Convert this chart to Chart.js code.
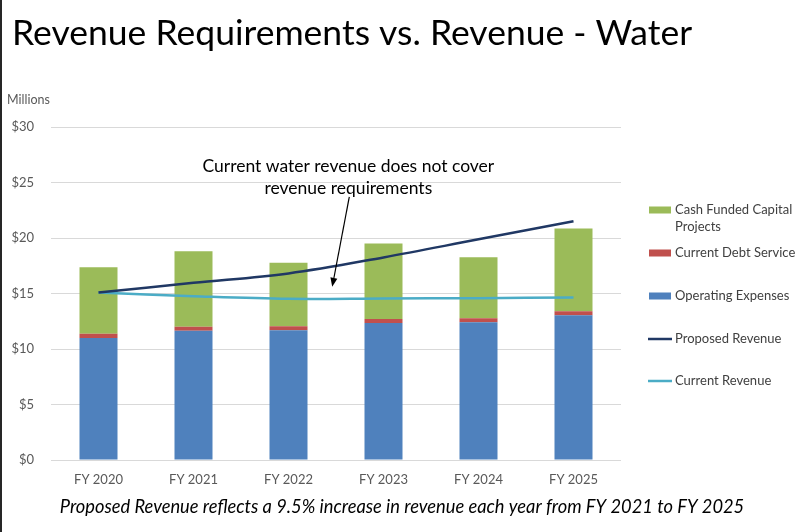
<!DOCTYPE html>
<html>
<head>
<meta charset="utf-8">
<script src="https://cdn.jsdelivr.net/npm/chart.js@4"></script>
<style>
  html, body { margin: 0; padding: 0; background: #fff; }
  #wrap { width: 800px; height: 532px; position: relative; }
</style>
</head>
<body>
<div id="wrap"><canvas id="revchart" width="800" height="532"></canvas></div>
<script>
// values in $ millions
var years = ['FY 2020', 'FY 2021', 'FY 2022', 'FY 2023', 'FY 2024', 'FY 2025'];
var operatingExpenses = [11.0, 11.65, 11.7, 12.35, 12.4, 13.05];
var currentDebt = [0.37, 0.36, 0.36, 0.36, 0.36, 0.36];
var cashCapital = [6.0, 6.8, 5.7, 6.8, 5.5, 7.45];
var proposedRevenue = [15.09, 15.96, 16.81, 18.25, 19.88, 21.5];
var currentRevenue = [15.09, 14.76, 14.52, 14.55, 14.58, 14.64];
var yTicks = [0, 5, 10, 15, 20, 25, 30];

var FONT = 'Lato, "Open Sans", sans-serif';

// legend is drawn by hand so the long label can wrap onto two lines
var legendOrder = [2, 1, 0, 3, 4];
var legendY = [210, 253, 296, 339, 381];

var slideText = {
  id: 'slideText',
  afterDraw: function(chart) {
    var ctx = chart.ctx;
    var xs = chart.scales.x, ys = chart.scales.y;
    ctx.save();

    // dark strip down the left edge of the slide
    ctx.fillStyle = '#262626';
    ctx.fillRect(0, 0, 2, 532);

    // title
    ctx.fillStyle = '#000';
    ctx.textAlign = 'left';
    ctx.textBaseline = 'alphabetic';
    ctx.font = '35.5px ' + FONT;
    ctx.fillText('Revenue Requirements vs. Revenue - Water', 12, 45);

    // units label
    ctx.fillStyle = '#595959';
    ctx.font = '12.5px ' + FONT;
    ctx.textBaseline = 'middle';
    ctx.fillText('Millions', 7, 100);

    // callout
    var cx = xs.getPixelForValue(2.63);
    ctx.fillStyle = '#000';
    ctx.textAlign = 'center';
    ctx.font = '17.5px ' + FONT;
    ctx.fillText('Current water revenue does not cover', cx, 166);
    ctx.fillText('revenue requirements', cx, 188);

    var x0 = xs.getPixelForValue(2.64), y0 = ys.getPixelForValue(23.7);
    var x1 = xs.getPixelForValue(2.46), y1 = ys.getPixelForValue(15.6);
    var ang = Math.atan2(y1 - y0, x1 - x0);
    var hl = 9, hw = 3.5;
    var bx = x1 - hl * Math.cos(ang), by = y1 - hl * Math.sin(ang);
    ctx.strokeStyle = '#000';
    ctx.lineWidth = 1.2;
    ctx.beginPath();
    ctx.moveTo(x0, y0);
    ctx.lineTo(bx, by);
    ctx.stroke();
    ctx.beginPath();
    ctx.moveTo(x1, y1);
    ctx.lineTo(bx + hw * Math.sin(ang), by - hw * Math.cos(ang));
    ctx.lineTo(bx - hw * Math.sin(ang), by + hw * Math.cos(ang));
    ctx.closePath();
    ctx.fill();

    // legend
    ctx.textAlign = 'left';
    ctx.font = '13px ' + FONT;
    legendOrder.forEach(function(di, k) {
      var ds = chart.data.datasets[di];
      var y = legendY[k];
      if (ds.type === 'line') {
        ctx.strokeStyle = ds.borderColor;
        ctx.lineWidth = 2.5;
        ctx.beginPath();
        ctx.moveTo(648, y);
        ctx.lineTo(672, y);
        ctx.stroke();
      } else {
        ctx.fillStyle = ds.backgroundColor;
        ctx.fillRect(649, y - 3.5, 22, 7);
      }
      ctx.fillStyle = '#404040';
      var words = ds.label.split(' '), line = '', lines = [];
      words.forEach(function(w) {
        var t = line ? line + ' ' + w : w;
        if (ctx.measureText(t).width > 135 && line) { lines.push(line); line = w; }
        else line = t;
      });
      lines.push(line);
      lines.forEach(function(l, i) { ctx.fillText(l, 675, y + i * 17); });
    });

    // footnote
    ctx.fillStyle = '#000';
    ctx.textAlign = 'center';
    ctx.font = 'italic 18.3px ' + FONT;
    ctx.fillText('Proposed Revenue reflects a 9.5% increase in revenue each year from FY 2021 to FY 2025', 402, 507);

    ctx.restore();
  }
};

var chart1 = document.getElementById('revchart');
var myChart1 = new Chart(chart1, {
  type: 'bar',
  data: {
    labels: years,
    datasets: [{
      label: 'Operating Expenses',
      data: operatingExpenses,
      backgroundColor: '#4F81BD',
      stack: 'req',
      order: 1
    }, {
      label: 'Current Debt Service',
      data: currentDebt,
      backgroundColor: '#C0504D',
      stack: 'req',
      order: 1
    }, {
      label: 'Cash Funded Capital Projects',
      data: cashCapital,
      backgroundColor: '#9BBB59',
      stack: 'req',
      order: 1
    }, {
      type: 'line',
      label: 'Proposed Revenue',
      data: proposedRevenue,
      borderColor: '#203864',
      borderWidth: 2.5,
      pointRadius: 0,
      tension: 0.35,
      fill: false,
      stack: 'prop',
      order: 0
    }, {
      type: 'line',
      label: 'Current Revenue',
      data: currentRevenue,
      borderColor: '#4BACC6',
      borderWidth: 2.5,
      pointRadius: 0,
      tension: 0.35,
      fill: false,
      stack: 'cur',
      order: 0
    }]
  },
  options: {
    responsive: false,
    animation: false,
    layout: { padding: { left: 0, right: 179, top: 127, bottom: 42 } },
    datasets: { bar: { barPercentage: 0.4, categoryPercentage: 1 } },
    plugins: {
      legend: { display: false },
      title: { display: false },
      tooltip: { enabled: false }
    },
    scales: {
      x: {
        stacked: true,
        grid: { display: false },
        border: { display: false },
        ticks: { color: '#595959', font: { family: FONT, size: 13 }, padding: 4, maxRotation: 0 },
        afterFit: function(s) { s.height = 30; }
      },
      y: {
        stacked: true,
        min: 0,
        max: 30,
        afterBuildTicks: function(s) { s.ticks = yTicks.map(function(v) { return { value: v }; }); },
        grid: { color: '#D9D9D9', lineWidth: 1, drawTicks: false },
        border: { display: false },
        ticks: {
          color: '#595959',
          font: { family: FONT, size: 13 },
          padding: 17,
          callback: function(v) { return '$' + v; }
        },
        afterFit: function(s) { s.width = 51; }
      }
    }
  },
  plugins: [slideText]
});
</script>
</body>
</html>
